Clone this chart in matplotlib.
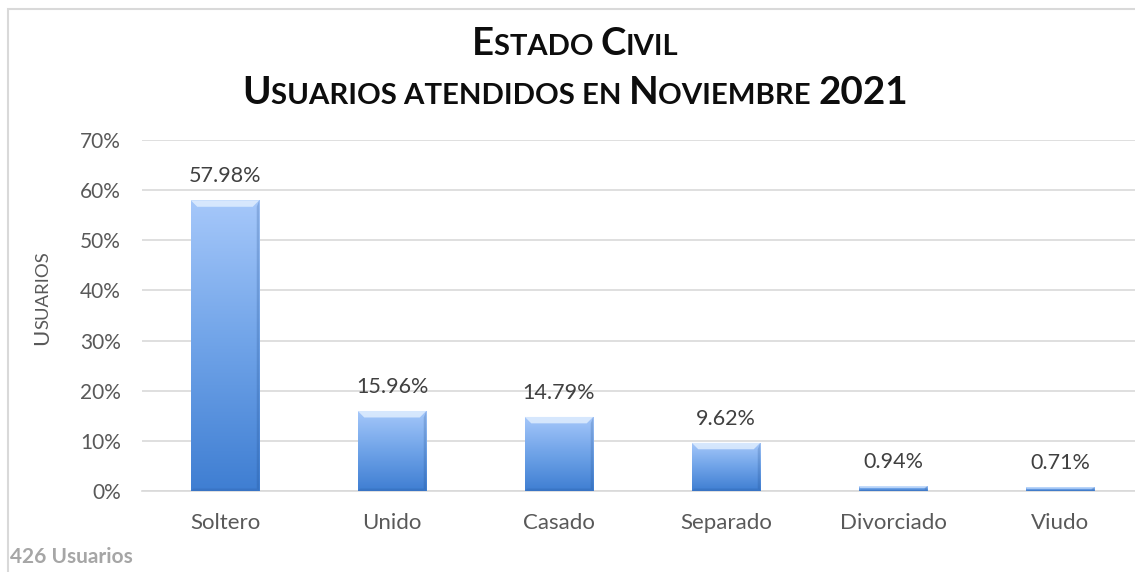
import matplotlib
matplotlib.use("Agg")
import matplotlib.pyplot as plt
import numpy as np
from matplotlib.colors import LinearSegmentedColormap
from matplotlib.patches import Rectangle, Polygon
from matplotlib.offsetbox import TextArea, HPacker, AnnotationBbox

categories = ["Soltero", "Unido", "Casado", "Separado", "Divorciado", "Viudo"]
values = [57.98, 15.96, 14.79, 9.62, 0.94, 0.71]
value_labels = ["57.98%", "15.96%", "14.79%", "9.62%", "0.94%", "0.71%"]
yticks = [0, 10, 20, 30, 40, 50, 60, 70]
ytick_labels = ["0%", "10%", "20%", "30%", "40%", "50%", "60%", "70%"]
title_line1 = "Estado Civil"
title_line2 = "Usuarios atendidos en Noviembre 2021"
ylabel = "Usuarios"
footnote = "426 Usuarios"

FONT = "Lato"
W, H = 1135, 572
DPI = 100
fig = plt.figure(figsize=(W / DPI, H / DPI), dpi=DPI)
fig.patch.set_facecolor("white")

# chart border (cropped at right and bottom)
fig.patches.append(Rectangle((7.5 / W, -0.05), 1.2, (H - 8.5) / H + 0.05,
                             transform=fig.transFigure, fill=False,
                             edgecolor="#D9D9D9", linewidth=1.5))

ax_left, ax_right = 141.5, 1143.5
ax_top, ax_bot = 140, 491
ax = fig.add_axes([ax_left / W, (H - ax_bot) / H, (ax_right - ax_left) / W, (ax_bot - ax_top) / H])
ax.set_facecolor("none")

x = np.arange(len(categories))
bw = 0.41
ax.set_xlim(-0.5, len(categories) - 0.5)
ax.set_ylim(0, 70)

cmap = LinearSegmentedColormap.from_list("bar", ["#3F7ED2", "#6FA3E8", "#A6C8FA"])
grad = np.linspace(0, 1, 256).reshape(-1, 1)

bars = ax.bar(x, values, width=bw, color="none", edgecolor="none", zorder=3)
px_x = (ax_right - ax_left) / len(categories)  # px per x unit
px_y = (ax_bot - ax_top) / 70.0                # px per y unit
for rect, v in zip(bars, values):
    x0 = rect.get_x(); x1 = x0 + rect.get_width()
    im = ax.imshow(grad, extent=[x0, x1, 0, v], origin="lower", cmap=cmap,
                   aspect="auto", zorder=3, interpolation="bilinear")
    im.set_clip_path(rect)
    bpx = min(6.5, v * px_y * 0.3)
    dx = bpx / px_x
    dy = bpx / px_y
    sx = 2.5 / px_x
    sy = min(2.5, v * px_y * 0.3) / px_y
    top = Polygon([[x0, v], [x1, v], [x1 - dx, v - dy], [x0 + dx, v - dy]],
                  closed=True, facecolor="#E8F3FF", alpha=0.75, edgecolor="none", zorder=4)
    right = Polygon([[x1, 0], [x1, v], [x1 - sx, v - dy], [x1 - sx, sy]],
                    closed=True, facecolor="#1E4C8C", alpha=0.22, edgecolor="none", zorder=4)
    bottom = Polygon([[x0, 0], [x1, 0], [x1 - sx, sy], [x0 + sx, sy]],
                     closed=True, facecolor="#1E4C8C", alpha=0.18, edgecolor="none", zorder=4)
    for p in (top, right, bottom):
        ax.add_patch(p)

for xi, v, lab in zip(x, values, value_labels):
    ax.annotate(lab, (xi, v), xytext=(0, 13), textcoords="offset points",
                ha="center", va="baseline", fontsize=15.5, color="#404040",
                family=FONT, zorder=5)

ax.set_yticks(yticks)
ax.set_yticklabels(ytick_labels)
ax.set_xticks(x)
ax.set_xticklabels(categories)
ax.tick_params(axis="both", length=0, labelcolor="#595959")
ax.tick_params(axis="y", pad=15, labelsize=15)
ax.tick_params(axis="x", pad=15.5, labelsize=16)
for lab in ax.get_xticklabels() + ax.get_yticklabels():
    lab.set_family(FONT)
ax.grid(axis="y", color="#D9D9D9", linewidth=1.2, zorder=0)
ax.set_axisbelow(True)
for s in ["top", "right", "left"]:
    ax.spines[s].set_visible(False)
ax.spines["bottom"].set_color("#D9D9D9")
ax.spines["bottom"].set_linewidth(1.2)


def small_caps(text, big, small, y, color="#0D0D0D", weight="bold"):
    runs = []
    cur = ""
    cur_big = None
    for ch in text:
        isbig = ch.isupper() or ch.isdigit()
        if ch == " ":
            isbig = cur_big if cur_big is not None else False
        if cur_big is None or isbig == cur_big:
            cur += ch
            cur_big = isbig
        else:
            runs.append((cur, cur_big))
            cur = ch
            cur_big = isbig
    runs.append((cur, cur_big))
    children = [TextArea(t.upper(), textprops=dict(fontsize=big if b else small,
                                                    fontweight=weight, color=color,
                                                    family=FONT))
                for t, b in runs]
    pack = HPacker(children=children, align="baseline", pad=0, sep=0)
    ab = AnnotationBbox(pack, (575 / W, y), xycoords="figure fraction",
                        frameon=False, box_alignment=(0.5, 0.5), pad=0)
    fig.add_artist(ab)


small_caps(title_line1, 27.5, 21, 1 - 44 / H)
small_caps(title_line2, 27.8, 21.2, 1 - 92 / H)

# y label in small caps, rotated
fig.canvas.draw()
r = fig.canvas.get_renderer()
t1 = fig.text(48 / W, (H - 345) / H, ylabel[0].upper(), rotation=90,
              rotation_mode="anchor", ha="left", va="baseline", fontsize=16,
              color="#595959", family=FONT)
bb = t1.get_window_extent(renderer=r)
fig.text(48 / W, (H - 345 + bb.height) / H, ylabel[1:].upper(), rotation=90,
         rotation_mode="anchor", ha="left", va="baseline", fontsize=13.3,
         color="#595959", family=FONT)

fig.text(10 / W, (H - 563) / H, footnote, ha="left", va="baseline", fontsize=15,
         fontweight="bold", color="#A6A6A6", family=FONT)

fig.savefig("out.png", dpi=DPI, facecolor="white")
